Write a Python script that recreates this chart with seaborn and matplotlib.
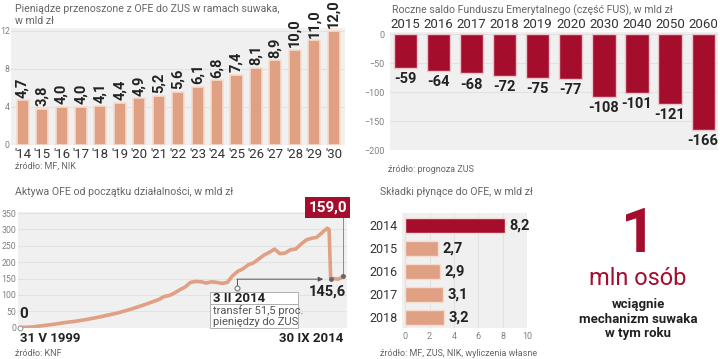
import numpy as np
import pandas as pd
import seaborn as sns
import matplotlib.pyplot as plt
from matplotlib.patches import Rectangle

# --- data ---
suwak_years = ["'14", "'15", "'16", "'17", "'18", "'19", "'20", "'21", "'22",
               "'23", "'24", "'25", "'26", "'27", "'28", "'29", "'30"]
suwak_values = [4.7, 3.8, 4.0, 4.0, 4.1, 4.4, 4.9, 5.2, 5.6, 6.1, 6.8, 7.4,
                8.1, 8.9, 10.0, 11.0, 12.0]

fus_years = ["2015", "2016", "2017", "2018", "2019", "2020", "2030", "2040", "2050", "2060"]
fus_values = [-59, -64, -68, -72, -75, -77, -108, -101, -121, -166]

ofe_dates = ["1999-05-31", "1999-09-30", "1999-12-31", "2000-06-30", "2000-12-31",
             "2001-06-30", "2001-12-31", "2002-06-30", "2002-12-31", "2003-06-30",
             "2003-12-31", "2004-06-30", "2004-12-31", "2005-06-30", "2005-12-31",
             "2006-03-31", "2006-06-30", "2006-09-30", "2006-12-31", "2007-03-31",
             "2007-06-30", "2007-09-30", "2007-12-31", "2008-03-31", "2008-06-30",
             "2008-09-30", "2008-12-31", "2009-03-31", "2009-06-30", "2009-09-30",
             "2009-12-31", "2010-03-31", "2010-06-30", "2010-09-30", "2010-12-31",
             "2011-03-31", "2011-06-30", "2011-09-30", "2011-12-31", "2012-03-31",
             "2012-06-30", "2012-09-30", "2012-12-31", "2013-03-31", "2013-06-30",
             "2013-09-30", "2013-12-31", "2014-01-31", "2014-02-28", "2014-04-30",
             "2014-06-30", "2014-08-31", "2014-09-30"]
ofe_values = [0, 1, 2, 6, 10, 15, 19, 24, 30, 37, 44, 53, 63, 74, 86, 95, 98, 106,
              116, 124, 138, 141, 140, 136, 140, 138, 135, 138, 158, 172, 180, 192,
              198, 210, 222, 230, 240, 226, 228, 238, 240, 255, 268, 273, 276, 290,
              304, 300, 149, 150, 148, 152, 159]

skladki_years = ["2014", "2015", "2016", "2017", "2018"]
skladki_values = [8.2, 2.7, 2.9, 3.1, 3.2]

# --- style ---
SALMON = "#e0a083"
SALMON_EDGE = "#f6dccd"
DARKRED = "#a50d2d"
BG = "#f0f0f0"
GRID = "#e2e2e2"
GREY = "#808080"
DARK = "#222222"

sns.set_style("white")
plt.rcParams["font.family"] = ["Roboto", "DejaVu Sans"]

W, H = 720, 359
fig = plt.figure(figsize=(7.2, 3.59), dpi=100)


def px_axes(l, t, r, b):
    return fig.add_axes([l / W, 1 - b / H, (r - l) / W, (b - t) / H])


def ftext(x, y, s, **kw):
    fig.text(x / W, 1 - y / H, s, **kw)


def comma(v):
    return f"{v:.1f}".replace(".", ",")


def clean(ax):
    ax.set_facecolor(BG)
    for sp in ax.spines.values():
        sp.set_visible(False)
    ax.tick_params(length=0)
    ax.set_xlabel("")
    ax.set_ylabel("")


# --- panel 1: suwak ---
ax1 = px_axes(11, 28, 345, 145)
sns.barplot(x=suwak_years, y=suwak_values, color=SALMON, width=0.62,
            edgecolor=SALMON_EDGE, linewidth=1.2, saturation=1, ax=ax1)
clean(ax1)
ax1.set_ylim(0, 12.3)
ax1.set_xlim(-0.6, 16.58)
ax1.set_yticks([0, 4, 8, 12])
ax1.yaxis.grid(True, color=GRID, lw=0.8)
ax1.set_axisbelow(True)
ax1.tick_params(axis="y", labelsize=6.3, labelcolor=GREY, pad=1)
ax1.tick_params(axis="x", labelsize=9.5, labelcolor="#333333", pad=2.5)
for i, v in enumerate(suwak_values):
    ax1.annotate(comma(v), (i, v), xytext=(0, 2), textcoords="offset points",
                 rotation=90, ha="center", va="bottom", fontsize=10.5,
                 fontweight="bold", color=DARK)
ftext(15, 4, "Pieniądze przenoszone z OFE do ZUS w ramach suwaka,\nw mld zł",
      ha="left", va="top", fontsize=7.6, color="#666666", linespacing=1.2)
ftext(15, 166, "źródło: MF, NIK", ha="left", va="center", fontsize=6.5, color="#666666")

# --- panel 2: FUS ---
ax2 = px_axes(390, 32, 718, 150)
sns.barplot(x=fus_years, y=fus_values, color=DARKRED, width=0.7,
            edgecolor="#e9c6cc", linewidth=1, saturation=1, ax=ax2)
clean(ax2)
ax2.set_ylim(-200, 3.5)
ax2.set_xlim(-0.47, 9.45)
ax2.set_yticks([0, -50, -100, -150, -200])
ax2.yaxis.grid(True, color=GRID, lw=0.8)
ax2.set_axisbelow(True)
ax2.xaxis.tick_top()
ax2.tick_params(axis="x", labelsize=9.5, labelcolor="#333333", pad=1)
ax2.tick_params(axis="y", labelsize=6.5, labelcolor=GREY, pad=4)
for i, v in enumerate(fus_values):
    ax2.annotate(str(v), (i, v), xytext=(0, -3), textcoords="offset points",
                 ha="center", va="top", fontsize=10.5, fontweight="bold", color=DARK)
ftext(392, 10, "Roczne saldo Funduszu Emerytalnego (część FUS), w mld zł",
      ha="left", va="center", fontsize=7.6, color="#666666")
ftext(388, 170, "źródło: prognoza ZUS", ha="left", va="center", fontsize=6.5, color="#666666")

# --- panel 3: OFE assets ---
ofe = pd.DataFrame({"date": pd.to_datetime(ofe_dates), "value": ofe_values})
ax3 = px_axes(18, 211.5, 347, 328.2)
sns.lineplot(data=ofe, x="date", y="value", color=SALMON, lw=2.6, ax=ax3)
clean(ax3)
d0, d1 = ofe["date"].iloc[0], ofe["date"].iloc[-1]
ax3.set_xlim(pd.Timestamp("1999-04-20"), pd.Timestamp("2014-12-08"))
ax3.set_ylim(-2, 355)
ax3.set_yticks(range(0, 351, 50))
ax3.yaxis.grid(True, color=GRID, lw=0.8)
ax3.set_axisbelow(True)
ax3.tick_params(axis="y", labelsize=6.3, labelcolor=GREY, pad=1.5)
ax3.set_xticks([d0, d1])
ax3.set_xticklabels(["31 V 1999", "30 IX 2014"], fontsize=9.5,
                    fontweight="bold", color=DARK)
ax3.tick_params(axis="x", pad=3)
ax3.get_xticklabels()[0].set_ha("left")
ax3.get_xticklabels()[1].set_ha("right")
ax3.plot([d0], [0], "o", ms=3.5, mfc="white", mec="#999999", mew=0.8, clip_on=False)
ax3.annotate("0", (d0, 0), xytext=(-1, 5), textcoords="offset points",
             ha="left", va="bottom", fontsize=11, fontweight="bold", color=DARK)
# end label 159,0
ax3.plot([d1, d1], [159, 348], color="#8a8a8a", lw=0.7, clip_on=False)
ax3.plot([d1], [159], "o", ms=2.5, color="#666666", clip_on=False)
ax3.annotate("159,0", (d1, 159), xytext=(-11, 49), textcoords="offset points",
             ha="center", va="center", fontsize=11, fontweight="bold", color="white",
             bbox=dict(boxstyle="square,pad=0.2", fc=DARKRED, ec="none"))
# 3 II 2014 transfer callout
d_note = pd.Timestamp("2009-09-15")
d_drop = pd.Timestamp("2014-02-28")
ax3.annotate("", xy=(pd.Timestamp("2013-10-20"), 148), xytext=(d_note, 148),
             arrowprops=dict(arrowstyle="-|>", color="#555555", lw=0.7,
                             mutation_scale=7, shrinkA=0, shrinkB=0))
ax3.plot([d_note, d_note], [148, 121], color="#555555", lw=0.7)
ax3.plot([d_note], [121], "o", ms=3.5, mfc="white", mec="#777777", mew=0.8)
ax3.plot([d_drop], [148], "o", ms=2.5, color="#666666")
ax3.annotate("145,6", (d_drop, 148), xytext=(-2, -4), textcoords="offset points",
             ha="center", va="top", fontsize=10.5, fontweight="bold", color=DARK)
fig.patches.append(Rectangle((210 / W, 1 - 328 / H), 88 / W, 36 / H,
                             transform=fig.transFigure, fc="white", ec="#b0b0b0",
                             lw=0.7, zorder=5))
fig.lines.append(plt.Line2D([210 / W, 298 / W], [1 - 304 / H, 1 - 304 / H],
                            transform=fig.transFigure, color="#b0b0b0", lw=0.7, zorder=6))
ftext(213, 298, "3 II 2014", ha="left", va="center", fontsize=9.5,
      fontweight="bold", color=DARK, zorder=7)
ftext(213, 316, "transfer 51,5 proc.\npieniędzy do ZUS", ha="left", va="center",
      fontsize=8, color="#555555", linespacing=1.05, zorder=7)
ftext(15, 192, "Aktywa OFE od początku działalności, w mld zł",
      ha="left", va="center", fontsize=7.6, color="#666666")
ftext(15, 353, "źródło: KNF", ha="left", va="center", fontsize=6.5, color="#666666")

# --- panel 4: contributions ---
ax4 = px_axes(401.5, 213, 527, 328)
sns.barplot(y=skladki_years, x=skladki_values, hue=skladki_years,
            palette=[DARKRED] + [SALMON] * 4, legend=False, orient="h",
            width=0.65, edgecolor=SALMON_EDGE, linewidth=1, saturation=1, ax=ax4)
clean(ax4)
ax4.set_xlim(-0.3, 10)
ax4.set_ylim(4.46, -0.54)
ax4.set_xticks(range(0, 11, 2))
ax4.xaxis.grid(True, color=GRID, lw=0.8)
ax4.set_axisbelow(True)
ax4.tick_params(axis="x", labelsize=6.5, labelcolor=GREY, pad=3)
ax4.tick_params(axis="y", labelsize=9, labelcolor="#333333", pad=3)
for i, v in enumerate(skladki_values):
    ax4.annotate(comma(v), (v, i), xytext=(3, 0), textcoords="offset points",
                 ha="left", va="center", fontsize=10.5, fontweight="bold", color=DARK)
ftext(380, 192, "Składki płynące do OFE, w mld zł",
      ha="left", va="center", fontsize=7.6, color="#666666")
ftext(380, 353, "źródło: MF, ZUS, NIK, wyliczenia własne",
      ha="left", va="center", fontsize=6.5, color="#666666")

# --- big number ---
ftext(639, 252, "1", ha="center", va="baseline", fontsize=44, fontweight="bold", color=DARKRED)
ftext(638, 285, "mln osób", ha="center", va="baseline", fontsize=17, color=DARKRED)
ftext(638, 308, "wciągnie", ha="center", va="baseline", fontsize=9.5,
      fontweight="bold", color=DARK)
ftext(638, 323, "mechanizm suwaka", ha="center", va="baseline", fontsize=9.5,
      fontweight="bold", color=DARK)
ftext(638, 337, "w tym roku", ha="center", va="baseline", fontsize=9.5,
      fontweight="bold", color=DARK)

fig.savefig("out.png", dpi=100)
